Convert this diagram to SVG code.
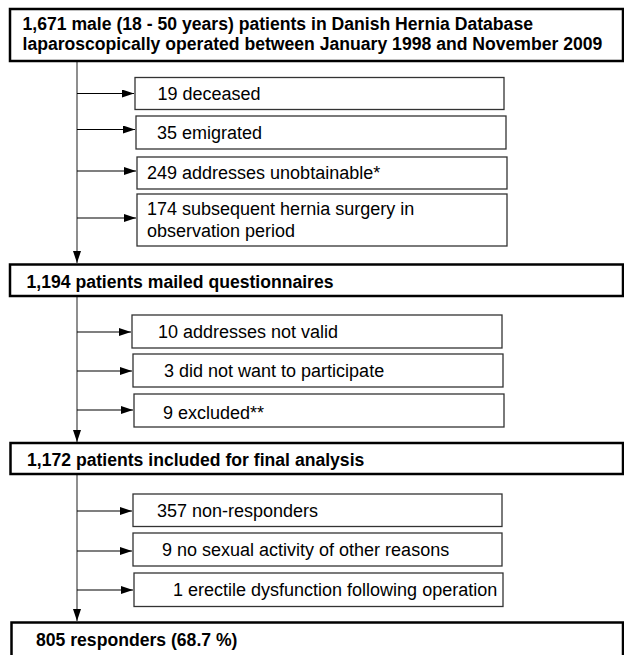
<svg xmlns="http://www.w3.org/2000/svg" width="624" height="655" viewBox="0 0 624 655">
<defs>
<marker id="ah" viewBox="0 0 12 8" refX="12" refY="4" markerWidth="12" markerHeight="8" markerUnits="userSpaceOnUse" orient="auto">
<path d="M0,0 L12,4 L0,8 Z" fill="#000"/>
</marker>
</defs>
<style>
.main{fill:#fff;stroke:#000;stroke-width:2.5}
.sub{fill:#fff;stroke:#333;stroke-width:1.3}
.bt{font-family:"Liberation Sans",Arial,sans-serif;font-weight:bold;font-size:17.6px;fill:#000}
.rt{font-family:"Liberation Sans",Arial,sans-serif;font-size:18px;fill:#000}
.v{stroke:#444;stroke-width:1.2;fill:none}
.h{stroke:#000;stroke-width:1.2;fill:none}
</style>
<rect width="624" height="655" fill="#fff"/>
<g id="connectors">
<line class="v" x1="77" y1="61" x2="77" y2="263" marker-end="url(#ah)"/>
<line class="v" x1="77" y1="296" x2="77" y2="442" marker-end="url(#ah)"/>
<line class="v" x1="77" y1="474" x2="77" y2="621" marker-end="url(#ah)"/>
<line class="h" x1="77" y1="93.5" x2="134" y2="93.5" marker-end="url(#ah)"/>
<line class="h" x1="77" y1="129.5" x2="135" y2="129.5" marker-end="url(#ah)"/>
<line class="h" x1="77" y1="171" x2="136" y2="171" marker-end="url(#ah)"/>
<line class="h" x1="77" y1="218" x2="136" y2="218" marker-end="url(#ah)"/>
<line class="h" x1="77" y1="332" x2="131" y2="332" marker-end="url(#ah)"/>
<line class="h" x1="77" y1="371" x2="132" y2="371" marker-end="url(#ah)"/>
<line class="h" x1="77" y1="410" x2="133" y2="410" marker-end="url(#ah)"/>
<line class="h" x1="77" y1="511" x2="132" y2="511" marker-end="url(#ah)"/>
<line class="h" x1="77" y1="551" x2="132" y2="551" marker-end="url(#ah)"/>
<line class="h" x1="77" y1="590" x2="133" y2="590" marker-end="url(#ah)"/>
</g>
<g id="n_start">
<rect class="main" x="10" y="9" width="613" height="52"/>
<text class="bt" x="22.5" y="30">1,671 male (18 - 50 years) patients in Danish Hernia Database</text>
<text class="bt" x="22.5" y="50">laparoscopically operated between January 1998 and November 2009</text>
</g>
<g id="n_deceased">
<rect class="sub" x="135" y="77.5" width="369" height="32"/>
<text class="rt" x="157.5" y="99.5">19 deceased</text>
</g>
<g id="n_emigrated">
<rect class="sub" x="136" y="116" width="370" height="33"/>
<text class="rt" x="157" y="138.5">35 emigrated</text>
</g>
<g id="n_unobtainable">
<rect class="sub" x="137" y="157" width="370" height="32"/>
<text class="rt" x="147" y="179">249 addresses unobtainable*</text>
</g>
<g id="n_subsequent">
<rect class="sub" x="137" y="194" width="370" height="52"/>
<text class="rt" x="147" y="215">174 subsequent hernia surgery in</text>
<text class="rt" x="147" y="237">observation period</text>
</g>
<g id="n_mailed">
<rect class="main" x="10" y="264.5" width="613" height="31.5"/>
<text class="bt" x="26.5" y="287.5">1,194 patients mailed questionnaires</text>
</g>
<g id="n_notvalid">
<rect class="sub" x="132" y="315" width="370" height="33"/>
<text class="rt" x="158" y="338">10 addresses not valid</text>
</g>
<g id="n_notwant">
<rect class="sub" x="133" y="354" width="370" height="33"/>
<text class="rt" x="164" y="377">3 did not want to participate</text>
</g>
<g id="n_excluded">
<rect class="sub" x="134" y="394" width="370" height="33"/>
<text class="rt" x="163" y="419">9 excluded**</text>
</g>
<g id="n_included">
<rect class="main" x="10.5" y="443" width="612.5" height="31"/>
<text class="bt" x="27" y="466">1,172 patients included for final analysis</text>
</g>
<g id="n_nonresp">
<rect class="sub" x="133" y="494" width="369" height="32.5"/>
<text class="rt" x="157" y="517">357 non-responders</text>
</g>
<g id="n_nosex">
<rect class="sub" x="133" y="533" width="369" height="33"/>
<text class="rt" x="162" y="555.5">9 no sexual activity of other reasons</text>
</g>
<g id="n_erectile">
<rect class="sub" x="134" y="573" width="369" height="33.5"/>
<text class="rt" x="173" y="595.5">1 erectile dysfunction following operation</text>
</g>
<g id="n_responders">
<rect class="main" x="11.5" y="622.5" width="611.5" height="40"/>
<text class="bt" x="36" y="646">805 responders (68.7 %)</text>
</g>
</svg>
